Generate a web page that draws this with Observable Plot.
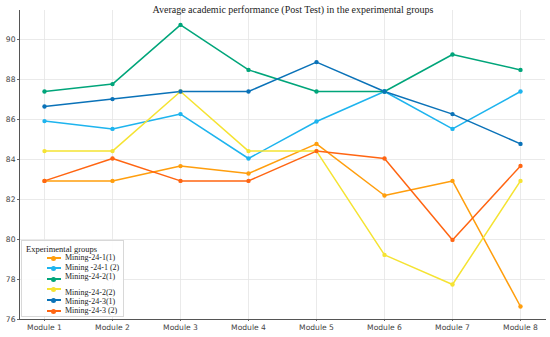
<!DOCTYPE html>
<html>
<head>
<meta charset="utf-8">
<script src="https://cdn.jsdelivr.net/npm/d3@7"></script>
<script src="https://cdn.jsdelivr.net/npm/@observablehq/plot@0.6"></script>
<style>
  html, body { margin: 0; padding: 0; background: #fff; }
  #wrap { position: relative; width: 550px; height: 337px; overflow: hidden; }
  #title { position: absolute; left: 0; width: 586px; top: 4px; text-align: center;
    font-family: "Liberation Serif", serif; font-size: 10px; color: #222; white-space: nowrap; }
  #legend { position: absolute; left: 21px; top: 240px; width: 103px; height: 77px;
    border: 1px solid #d8d8d8; background: rgba(255,255,255,0.9); box-sizing: border-box; }
  #legend .lt { position: absolute; left: 4px; top: 3px; font-family: "Liberation Serif", serif;
    font-size: 8.5px; color: #222; white-space: nowrap; }
  #legend .ln { position: absolute; left: 25px; width: 14px; height: 2px; }
  #legend .dt { position: absolute; left: 29px; width: 5px; height: 5px; border-radius: 50%; }
  #legend .lb { position: absolute; left: 43px; font-family: "Liberation Serif", serif;
    font-size: 8px; color: #222; white-space: nowrap; line-height: 1; }
</style>
</head>
<body>
<div id="wrap">
  <div id="chart"></div>
  <div id="title">Average academic performance (Post Test) in the experimental groups</div>
  <div id="legend"></div>
</div>
<script>
const modules = ["Module 1","Module 2","Module 3","Module 4","Module 5","Module 6","Module 7","Module 8"];
const seriesNames = ["Mining-24-1(1)","Mining -24-1 (2)","Mining-24-2(1)","Mining-24-2(2)","Mining-24-3(1)","Mining-24-3 (2)"];
const seriesColors = ["#FF9E0D","#1EB4EE","#00A57A","#F5E332","#0A72B8","#FF6512"];
const mining241_1 = [82.93, 82.93, 83.67, 83.30, 84.78, 82.20, 82.93, 76.65];
const mining241_2 = [85.92, 85.53, 86.27, 84.05, 85.90, 87.40, 85.53, 87.40];
const mining242_1 = [87.40, 87.77, 90.73, 88.48, 87.40, 87.40, 89.25, 88.48];
const mining242_2 = [84.42, 84.42, 87.40, 84.42, 84.42, 79.23, 77.75, 82.93];
const mining243_1 = [86.65, 87.02, 87.40, 87.40, 88.87, 87.40, 86.27, 84.78];
const mining243_2 = [82.93, 84.05, 82.93, 82.93, 84.42, 84.05, 79.98, 83.68];
const yTicks = [76, 78, 80, 82, 84, 86, 88, 90];
const legendRowY = [17, 27, 38, 48, 59, 70];
const legendLabelY = [13, 23, 32, 48, 57, 66];

const seriesValues = [mining241_1, mining241_2, mining242_1, mining242_2, mining243_1, mining243_2];
const data = [];
seriesNames.forEach((s, i) => modules.forEach((m, j) => data.push({series: s, module: m, value: seriesValues[i][j]})));

const chart = Plot.plot({
  width: 550,
  height: 337,
  marginLeft: 19,
  marginRight: 5,
  marginTop: 10,
  marginBottom: 18,
  style: {fontFamily: "DejaVu Sans, sans-serif", fontSize: "7.6px", color: "#444", background: "#fff"},
  x: {type: "point", domain: modules, padding: 0.35, label: null},
  y: {domain: [76, 91.45], label: null},
  color: {domain: seriesNames, range: seriesColors},
  marks: [
    Plot.gridX(modules, {stroke: "#e4e4e4", strokeOpacity: 1, strokeWidth: 0.8}),
    Plot.gridY(yTicks, {stroke: "#e4e4e4", strokeOpacity: 1, strokeWidth: 0.8}),
    Plot.axisX({tickSize: 2, tickPadding: 3, fontSize: 7.6, fill: "#444", stroke: "#666"}),
    Plot.axisY({ticks: yTicks, tickSize: 2, tickPadding: 2, fontSize: 7.6, fill: "#444", stroke: "#666"}),
    Plot.frame({anchor: "left", stroke: "#555", strokeWidth: 1}),
    Plot.frame({anchor: "bottom", stroke: "#555", strokeWidth: 1}),
    Plot.line(data, {x: "module", y: "value", z: "series", stroke: "series", strokeWidth: 1.5}),
    Plot.dot(data, {x: "module", y: "value", fill: "series", r: 2.2, stroke: null})
  ]
});
document.getElementById("chart").appendChild(chart);

const leg = document.getElementById("legend");
const t = document.createElement("div");
t.className = "lt"; t.textContent = "Experimental groups";
leg.appendChild(t);
seriesNames.forEach((s, i) => {
  const ln = document.createElement("div");
  ln.className = "ln"; ln.style.top = (legendRowY[i] - 1) + "px"; ln.style.background = seriesColors[i];
  const dt = document.createElement("div");
  dt.className = "dt"; dt.style.top = (legendRowY[i] - 2.5) + "px"; dt.style.background = seriesColors[i];
  const lb = document.createElement("div");
  lb.className = "lb"; lb.style.top = legendLabelY[i] + "px"; lb.textContent = s;
  leg.appendChild(ln); leg.appendChild(dt); leg.appendChild(lb);
});
</script>
</body>
</html>
